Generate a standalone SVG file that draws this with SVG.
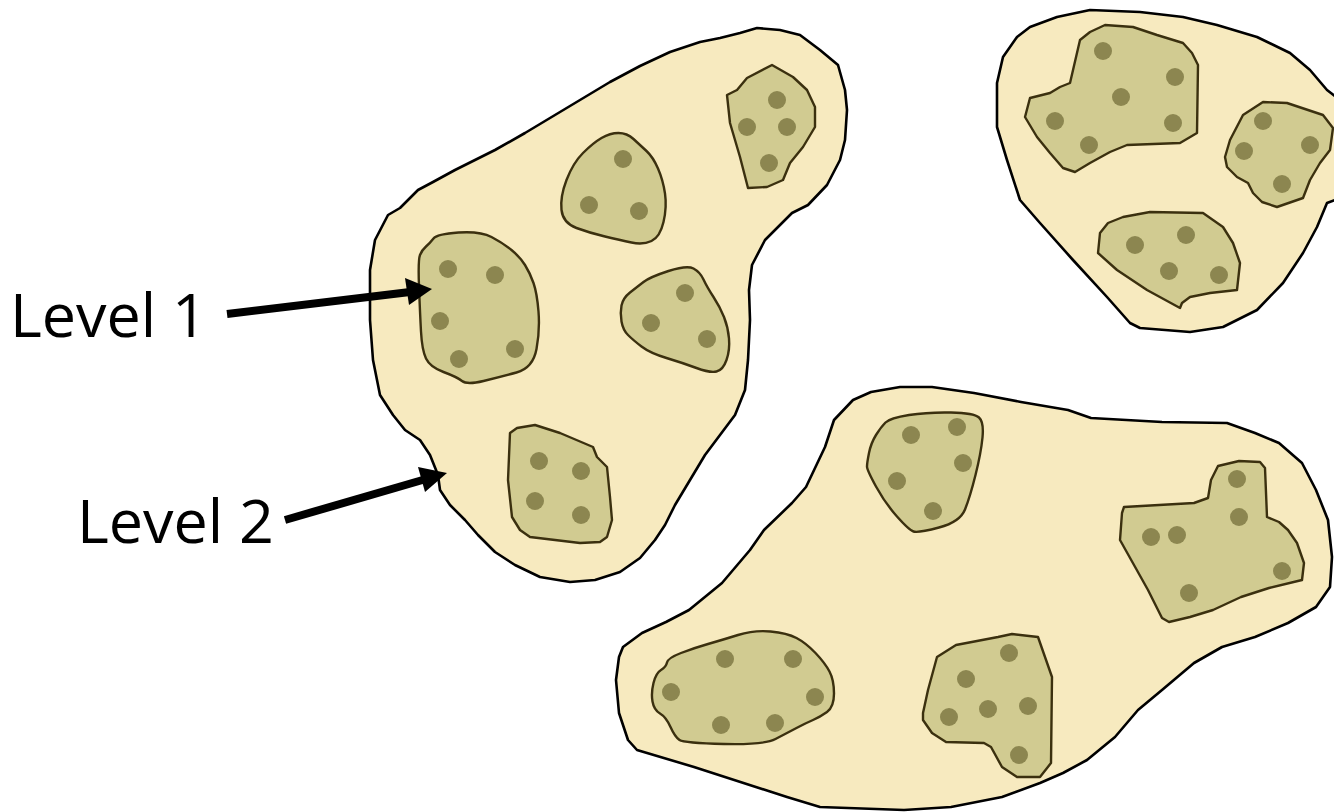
<svg xmlns="http://www.w3.org/2000/svg" width="1334" height="812" viewBox="0 0 1334 812">
<defs>
<style>
.outer{fill:#f7eabf;stroke:#000;stroke-width:2.6;stroke-linejoin:round}
.inner{fill:#d1cb91;stroke:#3b300f;stroke-width:2.4;stroke-linejoin:round}
.dot{fill:#8c8650}
.lbl{font-family:"Open Sans","Liberation Sans",sans-serif;font-size:61px;fill:#000}
.arr{stroke:#000;stroke-width:8;fill:none}
.head{fill:#000}
</style>
</defs>
<rect width="1334" height="812" fill="#fff"/>

<g id="cluster-left">
<polygon class="outer" points="757,28 780,30 800,35 820,50 838,65 845,90 847,110 845,140 840,160 827,185 808,205 792,213 780,225 765,240 752,265 749,290 750,320 748,360 745,390 735,415 720,435 705,455 690,480 675,505 665,525 655,540 640,558 620,572 595,580 570,582 540,577 515,565 495,552 478,535 465,520 450,505 440,490 438,475 430,455 420,440 405,430 393,415 380,395 373,360 370,320 370,270 375,240 388,215 400,208 418,190 433,182 455,170 475,160 495,150 525,133 555,115 580,100 610,82 640,66 670,52 700,42 720,38 740,33"/>
</g>
<g id="cluster-topright">
<polygon class="outer" points="997,83 1003,57 1017,37 1030,27 1057,17 1090,10 1140,12 1183,17 1217,25 1257,37 1290,53 1310,70 1327,90 1340,100 1340,198 1327,203 1317,227 1303,253 1283,283 1257,310 1223,327 1190,332 1140,328 1130,323 1107,297 1073,260 1040,223 1020,200 1007,160 997,127"/>
</g>
<g id="cluster-bottom">
<polygon class="outer" points="619,657 623,647 642,633 666,622 689,610 722,583 750,550 764,530 792,503 806,487 825,447 834,420 853,400 871,392 900,387 932,387 974,393 1021,402 1068,410 1091,418 1162,422 1227,423 1255,433 1279,443 1302,463 1316,490 1328,520 1332,557 1330,587 1316,607 1288,623 1255,637 1222,647 1194,663 1162,690 1138,710 1115,737 1087,760 1063,773 1040,783 1002,797 951,807 904,810 820,807 787,797 694,767 637,750 628,740 619,713 616,680"/>
</g>

<g id="group-a">
<path class="inner" d="M420,255 Q422,250 426,246.5 Q430,243 433.5,238.5 Q437,234 458.5,232.5 Q480,231 491.5,237 Q503,243 511.5,250 Q520,257 525,265 Q530,273 533.5,283 Q537,293 538.5,311.5 Q540,330 536.5,349 Q533,368 516.5,372.5 Q500,377 483.5,381 Q467,385 462,381 Q457,377 443.5,372 Q430,367 426,358.5 Q422,350 421,331.5 Q420,313 419,286.5 Q418,260 420,255 Z"/>
<circle class="dot" cx="448" cy="269" r="9"/><circle class="dot" cx="495" cy="275" r="9"/><circle class="dot" cx="440" cy="321" r="9"/><circle class="dot" cx="459" cy="359" r="9"/><circle class="dot" cx="515" cy="349" r="9"/>
</g>
<g id="group-b">
<path class="inner" d="M566.5,180 Q573,163 583,153 Q593,143 601.5,138 Q610,133 618.5,133 Q627,133 633.5,139 Q640,145 646.5,151 Q653,157 658,168.5 Q663,180 665,193.5 Q667,207 663.5,222 Q660,237 651.5,241 Q643,245 631.5,242.5 Q620,240 605,236.5 Q590,233 576.5,228 Q563,223 561.5,210 Q560,197 566.5,180 Z"/>
<circle class="dot" cx="623" cy="159" r="9"/><circle class="dot" cx="589" cy="205" r="9"/><circle class="dot" cx="639" cy="211" r="9"/>
</g>
<g id="group-c">
<polygon class="inner" points="727,95 737,90 747,78 772,65 793,77 807,90 815,107 815,127 803,147 790,163 783,180 767,187 748,188 740,157 730,123"/>
<circle class="dot" cx="777" cy="100" r="9"/><circle class="dot" cx="747" cy="127" r="9"/><circle class="dot" cx="787" cy="127" r="9"/><circle class="dot" cx="769" cy="163" r="9"/>
</g>
<g id="group-d">
<path class="inner" d="M630,292.5 Q637,287 643.5,282 Q650,277 668.5,271 Q687,265 693.5,268.5 Q700,272 703.5,279.5 Q707,287 713.5,297 Q720,307 724,317 Q728,327 729,338.5 Q730,350 726.5,360 Q723,370 716.5,371.5 Q710,373 696.5,368 Q683,363 666.5,358 Q650,353 641.5,346.5 Q633,340 628,335 Q623,330 621.5,321.5 Q620,313 621.5,305.5 Q623,298 630,292.5 Z"/>
<circle class="dot" cx="685" cy="293" r="9"/><circle class="dot" cx="651" cy="323" r="9"/><circle class="dot" cx="707" cy="339" r="9"/>
</g>
<g id="group-e">
<polygon class="inner" points="510,433 517,428 535,425 560,433 593,447 597,457 607,467 610,497 612,520 607,537 600,542 580,543 530,537 520,530 512,517 508,480"/>
<circle class="dot" cx="539" cy="461" r="9"/><circle class="dot" cx="581" cy="471" r="9"/><circle class="dot" cx="535" cy="501" r="9"/><circle class="dot" cx="581" cy="515" r="9"/>
</g>

<g id="group-f">
<polygon class="inner" points="1025,117 1030,98 1050,93 1060,87 1070,83 1080,40 1090,32 1105,25 1133,27 1157,35 1183,43 1192,53 1198,65 1197,133 1180,143 1127,145 1110,152 1090,163 1075,172 1063,168 1050,153 1037,137"/>
<circle class="dot" cx="1103" cy="51" r="9"/><circle class="dot" cx="1175" cy="77" r="9"/><circle class="dot" cx="1121" cy="97" r="9"/><circle class="dot" cx="1055" cy="121" r="9"/><circle class="dot" cx="1089" cy="145" r="9"/><circle class="dot" cx="1173" cy="123" r="9"/>
</g>
<g id="group-g">
<polygon class="inner" points="1225,157 1230,140 1243,115 1263,102 1287,103 1323,115 1333,128 1330,150 1320,163 1310,180 1303,198 1277,207 1262,202 1253,193 1248,183 1237,177 1227,167"/>
<circle class="dot" cx="1263" cy="121" r="9"/><circle class="dot" cx="1244" cy="151" r="9"/><circle class="dot" cx="1310" cy="145" r="9"/><circle class="dot" cx="1282" cy="184" r="9"/>
</g>
<g id="group-h">
<polygon class="inner" points="1098,253 1100,233 1108,223 1123,217 1150,212 1203,213 1223,227 1233,243 1240,263 1237,290 1210,293 1190,297 1182,303 1180,308 1147,290 1117,270"/>
<circle class="dot" cx="1135" cy="245" r="9"/><circle class="dot" cx="1186" cy="235" r="9"/><circle class="dot" cx="1169" cy="271" r="9"/><circle class="dot" cx="1219" cy="275" r="9"/>
</g>

<g id="group-i">
<path class="inner" d="M869,453 Q871,443 876,435 Q881,427 885.5,422.5 Q890,418 909,415 Q928,412 951,412.5 Q974,413 979,417.5 Q984,422 982.5,437.5 Q981,453 975.5,475 Q970,497 965,509.5 Q960,522 939,527.5 Q918,533 913.5,531.5 Q909,530 897,516.5 Q885,503 876,486.5 Q867,470 867,466.5 Q867,463 869,453 Z"/>
<circle class="dot" cx="911" cy="435" r="9"/><circle class="dot" cx="957" cy="427" r="9"/><circle class="dot" cx="963" cy="463" r="9"/><circle class="dot" cx="897" cy="481" r="9"/><circle class="dot" cx="933" cy="511" r="9"/>
</g>
<g id="group-j">
<polygon class="inner" points="1122,513 1124,507 1194,503 1208,498 1211,480 1218,466 1239,461 1260,462 1265,468 1267,517 1279,522 1288,530 1297,543 1304,563 1302,580 1269,588 1241,597 1213,610 1190,617 1169,622 1162,618 1148,590 1120,540"/>
<circle class="dot" cx="1151" cy="537" r="9"/><circle class="dot" cx="1177" cy="535" r="9"/><circle class="dot" cx="1237" cy="479" r="9"/><circle class="dot" cx="1239" cy="517" r="9"/><circle class="dot" cx="1282" cy="571" r="9"/><circle class="dot" cx="1189" cy="593" r="9"/>
</g>
<g id="group-k">
<path class="inner" d="M653.5,683 Q656,673 661,670 Q666,667 667,662.5 Q668,658 681,653 Q694,648 708,644 Q722,640 738,635 Q754,630 770.5,631.5 Q787,633 796.5,638 Q806,643 815.5,653 Q825,663 829.5,671.5 Q834,680 834,693.5 Q834,707 827,712 Q820,717 813,720 Q806,723 796.5,728 Q787,733 775.5,739 Q764,745 724,744 Q684,743 679.5,740 Q675,737 670.5,727 Q666,717 660,713.5 Q654,710 652.5,701.5 Q651,693 653.5,683 Z"/>
<circle class="dot" cx="725" cy="659" r="9"/><circle class="dot" cx="793" cy="659" r="9"/><circle class="dot" cx="671" cy="692" r="9"/><circle class="dot" cx="815" cy="697" r="9"/><circle class="dot" cx="721" cy="725" r="9"/><circle class="dot" cx="775" cy="723" r="9"/>
</g>
<g id="group-l">
<polygon class="inner" points="923,713 928,690 937,657 956,645 998,637 1012,634 1038,637 1052,677 1051,763 1040,777 1017,777 1002,767 991,747 984,743 946,742 932,733 923,720"/>
<circle class="dot" cx="1009" cy="653" r="9"/><circle class="dot" cx="966" cy="679" r="9"/><circle class="dot" cx="988" cy="709" r="9"/><circle class="dot" cx="1028" cy="706" r="9"/><circle class="dot" cx="949" cy="717" r="9"/><circle class="dot" cx="1019" cy="755" r="9"/>
</g>

<g id="connectors">
<line class="arr" x1="227" y1="314" x2="410" y2="292"/>
<polygon class="head" points="432,289 405,278 409,305"/>
<line class="arr" x1="285" y1="520" x2="426" y2="479"/>
<polygon class="head" points="447,473 418,467 425,492"/>
</g>

<g id="labels">
<text class="lbl" x="10" y="337">Level 1</text>
<text class="lbl" x="77" y="543">Level 2</text>
</g>
</svg>
